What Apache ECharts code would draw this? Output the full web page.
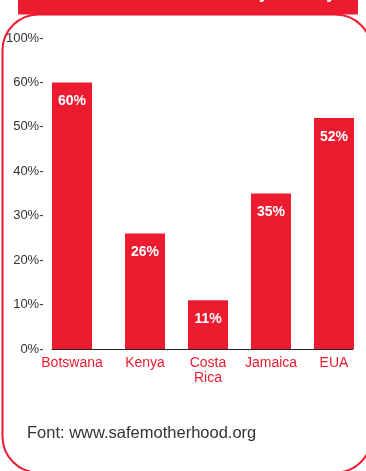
<!DOCTYPE html>
<html>
<head>
<meta charset="utf-8">
<script src="https://cdn.jsdelivr.net/npm/echarts@6/dist/echarts.min.js"></script>
<style>
html,body{margin:0;padding:0;background:#fff;}
#c{width:366px;height:471px;}
</style>
</head>
<body>
<div id="c"></div>
<script>
const categories = ['Botswana', 'Kenya', 'Costa\nRica', 'Jamaica', 'EUA'];
const values = [60, 26, 11, 35, 52];
const yTicks = [0, 10, 20, 30, 40, 50, 60, 70];
const yTickLabels = ['0%', '10%', '20%', '30%', '40%', '50%', '60%', '100%'];
const titleText = 'Caesarean section rates by country';
const footerText = 'Font: www.safemotherhood.org';

const RED = '#ED1B2F';
const FONT = '"Liberation Sans", Arial, Helvetica, sans-serif';

const chart = echarts.init(document.getElementById('c'), null, {renderer: 'canvas'});

// first category drawn by series A (left slot), others by series B (right slot)
const dataA = values.map((v, i) => i === 0 ? v : '-');
const dataB = values.map((v, i) => i === 0 ? '-' : v);

const barLabel = {
  show: true, position: 'insideTop', distance: 12,
  color: '#fff', fontWeight: 'bold', fontSize: 14, fontFamily: FONT,
  formatter: p => p.value + '%'
};

chart.setOption({
  animation: false,
  textStyle: {fontFamily: FONT},
  graphic: [
    {type: 'rect', z: 1, shape: {x: 2.5, y: 14.5, width: 369, height: 458, r: 36},
     style: {fill: 'none', stroke: RED, lineWidth: 2}},
    {type: 'rect', z: 2, shape: {x: 18, y: 0, width: 340, height: 14.5}, style: {fill: RED}},
    {type: 'text', z: 3, x: 192, y: -5.5,
     style: {text: titleText, fill: '#fff', font: 'bold 17px ' + FONT, textAlign: 'center', textVerticalAlign: 'middle'}},
    {type: 'text', z: 3, x: 27, y: 433,
     style: {text: footerText, fill: '#333', font: '16.5px ' + FONT, textAlign: 'left', textVerticalAlign: 'middle'}}
  ],
  grid: [
    {left: 45.5, right: 5.5, top: 38, bottom: 122},
    {left: 52, right: 13, top: 38, bottom: 122}
  ],
  xAxis: [
    {type: 'category', gridIndex: 0, data: categories,
     axisLine: {show: false}, axisTick: {show: false},
     axisLabel: {
       margin: 7, interval: 0,
       formatter: (v, i) => v.split('\n').map(s => '{' + (i === 0 ? 'l' : 'r') + '|' + s + '}').join('\n'),
       rich: {
         l: {color: RED, fontSize: 14, fontFamily: FONT, lineHeight: 15, padding: [0, 10, 0, 0]},
         r: {color: RED, fontSize: 14, fontFamily: FONT, lineHeight: 15, padding: [0, 0, 0, 10]}
       }
     }},
    {type: 'value', gridIndex: 1, min: 0, max: 1,
     axisLine: {show: true, lineStyle: {color: '#222', width: 1}},
     axisTick: {show: false}, axisLabel: {show: false}, splitLine: {show: false}}
  ],
  yAxis: [
    {type: 'value', gridIndex: 0, min: 0, max: 70, interval: 10,
     axisLine: {show: false}, axisTick: {show: false}, splitLine: {show: false},
     axisLabel: {
       margin: 2, color: '#333', fontSize: 13, fontFamily: FONT,
       formatter: v => yTickLabels[yTicks.indexOf(v)] + '-'
     }},
    {type: 'value', gridIndex: 1, min: 0, max: 1, show: false}
  ],
  series: [
    {type: 'bar', xAxisIndex: 0, yAxisIndex: 0, data: dataA, barWidth: 40, barGap: '-75%',
     itemStyle: {color: RED}, label: barLabel},
    {type: 'bar', xAxisIndex: 0, yAxisIndex: 0, data: dataB, barWidth: 40, barGap: '-75%',
     itemStyle: {color: RED}, label: barLabel}
  ]
});
</script>
</body>
</html>
